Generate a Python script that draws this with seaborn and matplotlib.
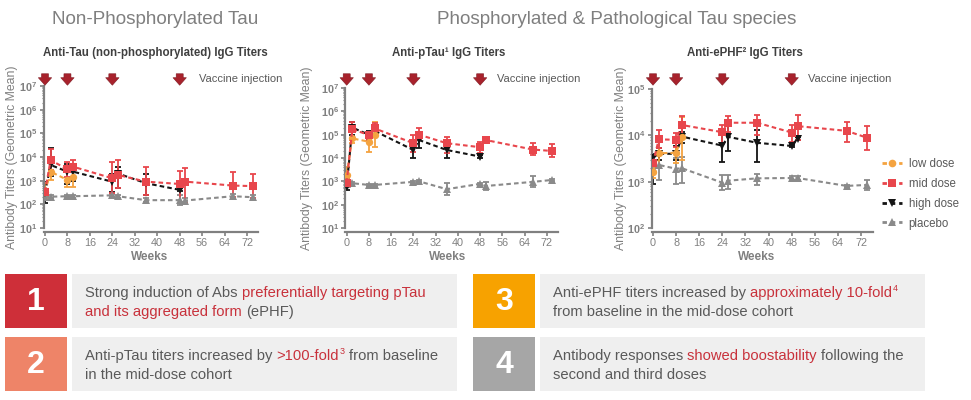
import numpy as np
import pandas as pd
import matplotlib
matplotlib.use("Agg")
import matplotlib.pyplot as plt
import seaborn as sns
from matplotlib.lines import Line2D
from matplotlib.patches import Rectangle
from matplotlib.ticker import LogLocator, NullFormatter

# ---------------- data ----------------
WEEKS = [0, 2, 8, 10, 24, 26, 36, 48, 50, 67, 74]
WEEKS_LOW = [0, 2, 8, 10]
WEEKS_HIGH = [0, 2, 8, 10, 24, 26, 36, 48]
WEEKS_HIGH_EPHF = [0, 2, 8, 10, 24, 26, 36, 48, 50]
INJECTION_WEEKS = [0, 8, 24, 48]
X_TICKS = [0, 8, 16, 24, 32, 40, 48, 56, 64, 72]
DOSES = ["low dose", "mid dose", "high dose", "placebo"]

# Panel 1: Anti-Tau (non-phosphorylated)
tau_low = [340, 2400, 1070, 1480]
tau_low_lo = [190, 1070, 560, 560]
tau_low_hi = [780, 5400, 2400, 3900]
tau_mid = [340, 7400, 3000, 3900, 1260, 1740, 910, 725, 910, 620, 590]
tau_mid_lo = [250, 2800, 1480, 1480, 295, 480, 250, 110, 110, 200, 180]
tau_mid_hi = [450, 21000, 6300, 7400, 6300, 7400, 3900, 2600, 3300, 2400, 2000]
tau_high = [300, 4600, 2400, 2400, 900, 2000, 780, 410]
tau_high_lo = [117, 1500, 700, 1000, 330, 500, 250, 350]
tau_high_hi = [900, 23000, 5000, 5000, 1900, 3900, 2000, 480]
tau_pla = [210, 210, 220, 220, 240, 220, 150, 150, 145, 220, 200]
tau_pla_lo = [180, 180, 190, 190, 210, 190, 130, 95, 120, 170, 170]
tau_pla_hi = [250, 250, 260, 260, 280, 250, 180, 240, 180, 280, 240]

# Panel 2: Anti-pTau
ptau_low = [1900, 69000, 50000, 97000]
ptau_low_lo = [810, 43000, 18600, 31000]
ptau_low_hi = [4300, 160000, 135000, 360000]
ptau_mid = [870, 170000, 97000, 186000, 43000, 100000, 43000, 29000, 59000, 23000, 20000]
ptau_mid_lo = [600, 59000, 59000, 81000, 18600, 59000, 16000, 16000, 43000, 13500, 11500]
ptau_mid_hi = [1300, 360000, 135000, 310000, 97000, 186000, 81000, 50000, 81000, 43000, 40000]
ptau_high = [590, 200000, 100000, 145000, 22000, 59000, 22000, 11500]
ptau_high_lo = [430, 97000, 60000, 100000, 9800, 26000, 9800, 10000]
ptau_high_hi = [1600, 360000, 140000, 200000, 59000, 115000, 43000, 13000]
ptau_pla = [800, 830, 700, 700, 950, 1000, 460, 780, 630, 950, 1150]
ptau_pla_lo = [700, 750, 640, 640, 870, 900, 260, 700, 430, 590, 1050]
ptau_pla_hi = [900, 920, 760, 760, 1030, 1100, 810, 860, 950, 1700, 1250]

# Panel 3: Anti-ePHF
ephf_low = [1650, 4100, 4200, 9400]
ephf_low_lo = [1180, 2100, 2500, 3000]
ephf_low_hi = [2300, 7300, 6700, 25000]
ephf_mid = [2500, 8200, 8000, 16700, 11700, 18700, 18700, 11500, 15800, 12500, 8900]
ephf_mid_lo = [1950, 5200, 5700, 9300, 6700, 12000, 10000, 7300, 8000, 7300, 4800]
ephf_mid_hi = [3500, 13000, 11400, 26000, 16700, 26000, 27000, 16700, 27000, 19700, 15800]
ephf_high = [3300, 4000, 4000, 9400, 6000, 9300, 6900, 5900, 8500]
ephf_high_lo = [900, 3000, 3000, 7000, 2700, 4500, 2600, 5500, 7800]
ephf_high_hi = [4000, 5200, 6000, 12000, 14000, 16700, 13000, 6300, 9300]
ephf_pla = [2000, 2300, 1900, 1950, 950, 1050, 1180, 1200, 1200, 810, 850]
ephf_pla_lo = [1700, 1100, 900, 930, 660, 700, 850, 1100, 1080, 760, 660]
ephf_pla_hi = [2300, 4100, 3200, 3400, 1400, 1400, 1500, 1300, 1350, 860, 1100]

PANEL_TITLES = ["Anti-Tau (non-phosphorylated) IgG Titers",
                "Anti-pTau\u00b9 IgG Titers",
                "Anti-ePHF\u00b2 IgG Titers"]
HEADERS = ["Non-Phosphorylated Tau", "Phosphorylated & Pathological Tau species"]

# ---------------- style ----------------
COLORS = {"low dose": "#F4A340", "mid dose": "#E8464C",
          "high dose": "#141414", "placebo": "#8A8A8A"}
MARKERS = {"low dose": "o", "mid dose": "s", "high dose": "v", "placebo": "^"}
GRAY = "#808080"
TXT = "#595959"
RED_TXT = "#C8313B"

sns.set_theme(style="white")
plt.rcParams["font.family"] = ["Liberation Sans", "DejaVu Sans"]
plt.rcParams["mathtext.fontset"] = "custom"
plt.rcParams["mathtext.rm"] = "Liberation Sans"
plt.rcParams["mathtext.bf"] = "Liberation Sans:bold"

W, H = 971, 400
fig = plt.figure(figsize=(W / 100, H / 100), dpi=100)
fig.patch.set_facecolor("white")

panels = [
    dict(px=(45.0, 2.806), ytop=86, ybot=228, ylim=(1, 7),
         series={"low dose": (WEEKS_LOW, tau_low, tau_low_lo, tau_low_hi),
                 "mid dose": (WEEKS, tau_mid, tau_mid_lo, tau_mid_hi),
                 "high dose": (WEEKS_HIGH, tau_high, tau_high_lo, tau_high_hi),
                 "placebo": (WEEKS, tau_pla, tau_pla_lo, tau_pla_hi)},
         title_x=155, ylab_right=18, vac_x=55, weeks_x=150),
    dict(px=(346.7, 2.78), ytop=88, ybot=228, ylim=(1, 7),
         series={"low dose": (WEEKS_LOW, ptau_low, ptau_low_lo, ptau_low_hi),
                 "mid dose": (WEEKS, ptau_mid, ptau_mid_lo, ptau_mid_hi),
                 "high dose": (WEEKS_HIGH, ptau_high, ptau_high_lo, ptau_high_hi),
                 "placebo": (WEEKS, ptau_pla, ptau_pla_lo, ptau_pla_hi)},
         title_x=449, ylab_right=313, vac_x=54, weeks_x=448),
    dict(px=(653.0, 2.89), ytop=89, ybot=228, ylim=(2, 5),
         series={"low dose": (WEEKS_LOW, ephf_low, ephf_low_lo, ephf_low_hi),
                 "mid dose": (WEEKS, ephf_mid, ephf_mid_lo, ephf_mid_hi),
                 "high dose": (WEEKS_HIGH_EPHF, ephf_high, ephf_high_lo, ephf_high_hi),
                 "placebo": (WEEKS, ephf_pla, ephf_pla_lo, ephf_pla_hi)},
         title_x=745, ylab_right=627, vac_x=53.5, weeks_x=757),
]

XMIN, XMAX = -0.5, 76
draw_order = ["placebo", "high dose", "low dose", "mid dose"]
DASH = (2.2, 1.5)

for i, p in enumerate(panels):
    x0, sc = p["px"]
    left_px = x0 + XMIN * sc
    width_px = (XMAX - XMIN) * sc
    ax = fig.add_axes([left_px / W, 1 - p["ybot"] / H, width_px / W,
                       (p["ybot"] - p["ytop"]) / H])
    height_px = p["ybot"] - p["ytop"]
    s = p["series"]
    # error bars
    for d in draw_order:
        wk, v, lo, hi = s[d]
        v = np.array(v, float)
        ax.errorbar(wk, v, yerr=[v - np.array(lo, float), np.array(hi, float) - v],
                    fmt="none", ecolor=COLORS[d], elinewidth=1.3, capsize=2.3,
                    capthick=1.3, zorder=2)
    df = pd.DataFrame([{"week": w_, "titer": v_, "dose": d}
                       for d in draw_order for w_, v_ in zip(s[d][0], s[d][1])])
    sns.lineplot(data=df, x="week", y="titer", hue="dose", style="dose",
                 hue_order=draw_order, style_order=draw_order, palette=COLORS,
                 markers=MARKERS, dashes={d: DASH for d in DOSES},
                 estimator=None, sort=True, legend=False, ax=ax,
                 markersize=5.3, markeredgewidth=0, linewidth=1.5, zorder=3)
    ax.set_yscale("log")
    lo_e, hi_e = p["ylim"]
    ax.set_ylim(10 ** lo_e, 10 ** hi_e)
    ax.set_xlim(XMIN, XMAX)
    ax.set_xticks(X_TICKS)
    ax.set_xticklabels([str(t) for t in X_TICKS], fontweight="bold")
    ax.set_yticks([10 ** k for k in range(lo_e, hi_e + 1)])
    ax.set_yticklabels([r"$\mathbf{10^{%d}}$" % k for k in range(lo_e, hi_e + 1)])
    ax.yaxis.set_minor_locator(LogLocator(base=10, subs=(2, 3, 4, 5, 6, 7, 8, 9), numticks=20))
    ax.yaxis.set_minor_formatter(NullFormatter())
    for sp in ["top", "right"]:
        ax.spines[sp].set_visible(False)
    for sp in ["left", "bottom"]:
        ax.spines[sp].set_color(GRAY)
        ax.spines[sp].set_linewidth(1.6)
    ax.spines["bottom"].set_position(("outward", 3))
    ax.tick_params(axis="both", which="major", direction="out", length=3, width=1.2,
                   color=GRAY, labelcolor=GRAY, labelsize=7.8, pad=1.5, left=True, bottom=True)
    ax.tick_params(axis="y", which="minor", direction="out", length=1.5, width=0.8,
                   color=GRAY, left=True)
    ax.set_facecolor("none")
    ax.grid(False)
    # labels
    ax.set_ylabel("Antibody Titers (Geometric Mean)", color=GRAY, fontsize=8.8)
    ax.yaxis.set_label_coords((p["ylab_right"] - left_px) / width_px, 0.5)
    ax.set_xlabel("Weeks", color=GRAY, fontsize=8.5, fontweight="bold")
    ax.xaxis.set_label_coords((p["weeks_x"] - left_px) / width_px,
                              -(251 - p["ybot"]) / height_px)
    ax.set_title(PANEL_TITLES[i], fontsize=8.3, fontweight="bold", color="#404040",
                 x=(p["title_x"] - left_px) / width_px, y=1 + (p["ytop"] - 56) / height_px,
                 va="baseline", pad=0)
    # injection arrows
    tip = 1 - (88 - p["ytop"]) / height_px
    tail = 1 + (p["ytop"] - 71) / height_px
    for wk in INJECTION_WEEKS:
        ax.annotate("", xy=(wk, tip), xycoords=ax.get_xaxis_transform(),
                    xytext=(wk, tail), textcoords=ax.get_xaxis_transform(),
                    arrowprops=dict(arrowstyle="simple,head_width=0.8,head_length=0.45,tail_width=0.42",
                                    fc="#A8222C", ec="#7E1820", lw=0.4),
                    zorder=6)
    ax.text(p["vac_x"], 1 + (p["ytop"] - 79) / height_px, "Vaccine injection",
            transform=ax.get_xaxis_transform(), fontsize=8, color=TXT,
            ha="left", va="center")
    if i == 2:
        handles = [Line2D([0], [0], color=COLORS[d], marker=MARKERS[d], markersize=5.5,
                          markeredgewidth=0, linestyle=(0, (1.6, 1.4)), linewidth=2.0)
                   for d in DOSES]
        ax.legend(handles, DOSES, loc="upper left",
                  bbox_to_anchor=(882 / W, 1 - 158 / H), bbox_transform=fig.transFigure,
                  frameon=False, fontsize=8.3, labelcolor=TXT, handlelength=1.75,
                  handletextpad=0.55, labelspacing=0.68, borderpad=0, borderaxespad=0)

# headers
fig.text(155 / W, 1 - 19 / H, HEADERS[0], ha="center", va="center", fontsize=13.6, color="#7F7F7F")
fig.text(616.5 / W, 1 - 19 / H, HEADERS[1], ha="center", va="center", fontsize=13.6, color="#7F7F7F")

# ---------------- bottom boxes ----------------
bg = fig.add_axes([0, 0, 1, 1], zorder=-1)
bg.set_xlim(0, W)
bg.set_ylim(H, 0)
bg.axis("off")

BOX_COLORS = ["#CE2F39", "#EE8468", "#F7A200", "#A6A6A6"]
BOX_NUMS = ["1", "2", "3", "4"]
boxes = [(5, 274), (5, 337), (473, 274), (473, 337)]
BOX_TEXT = [
    [[("Strong induction of Abs", TXT, False), (" preferentially targeting pTau", RED_TXT, False)],
     [("and its aggregated form", RED_TXT, False), (" (ePHF)", TXT, False)]],
    [[("Anti-pTau titers increased by", TXT, False), (" >100-fold", RED_TXT, False),
      ("3", RED_TXT, True), (" from baseline", TXT, False)],
     [("in the mid-dose cohort", TXT, False)]],
    [[("Anti-ePHF titers increased by", TXT, False), (" approximately 10-fold", RED_TXT, False),
      ("4", RED_TXT, True)],
     [("from baseline in the mid-dose cohort", TXT, False)]],
    [[("Antibody responses", TXT, False), (" showed boostability", RED_TXT, False),
      (" following the", TXT, False)],
     [("second and third doses", TXT, False)]],
]

FS = 10.6
SPACE_PT = 0.278 * FS


def rich_line(x, y, parts):
    base = None
    prev = None
    for txt, col, sup in parts:
        nsp = len(txt) - len(txt.lstrip(" "))
        txt = txt.lstrip(" ")
        if base is None:
            t = bg.text(x, y, txt, color=col, fontsize=FS, ha="left", va="baseline")
            base = t
        elif sup:
            t = bg.annotate(txt, xy=(1, 0), xycoords=(prev, base), xytext=(0.4, 5.3),
                            textcoords="offset points", color=col, fontsize=FS * 0.6,
                            ha="left", va="bottom")
        else:
            t = bg.annotate(txt, xy=(1, 0), xycoords=(prev, base),
                            xytext=(nsp * SPACE_PT, 0), textcoords="offset points",
                            color=col, fontsize=FS, ha="left", va="bottom")
            base = t
        prev = t


for k, (bx, by) in enumerate(boxes):
    bg.add_patch(Rectangle((bx, by), 62, 54, facecolor=BOX_COLORS[k], edgecolor="none"))
    bg.add_patch(Rectangle((bx + 67, by), 385, 54, facecolor="#EFEFEF", edgecolor="none"))
    bg.text(bx + 31, by + 28, BOX_NUMS[k], color="white", fontsize=23, fontweight="bold",
            ha="center", va="center")
    tx = bx + 80
    rich_line(tx, by + 23, BOX_TEXT[k][0])
    rich_line(tx, by + 42, BOX_TEXT[k][1])

fig.savefig("out.png", dpi=100, facecolor="white")
